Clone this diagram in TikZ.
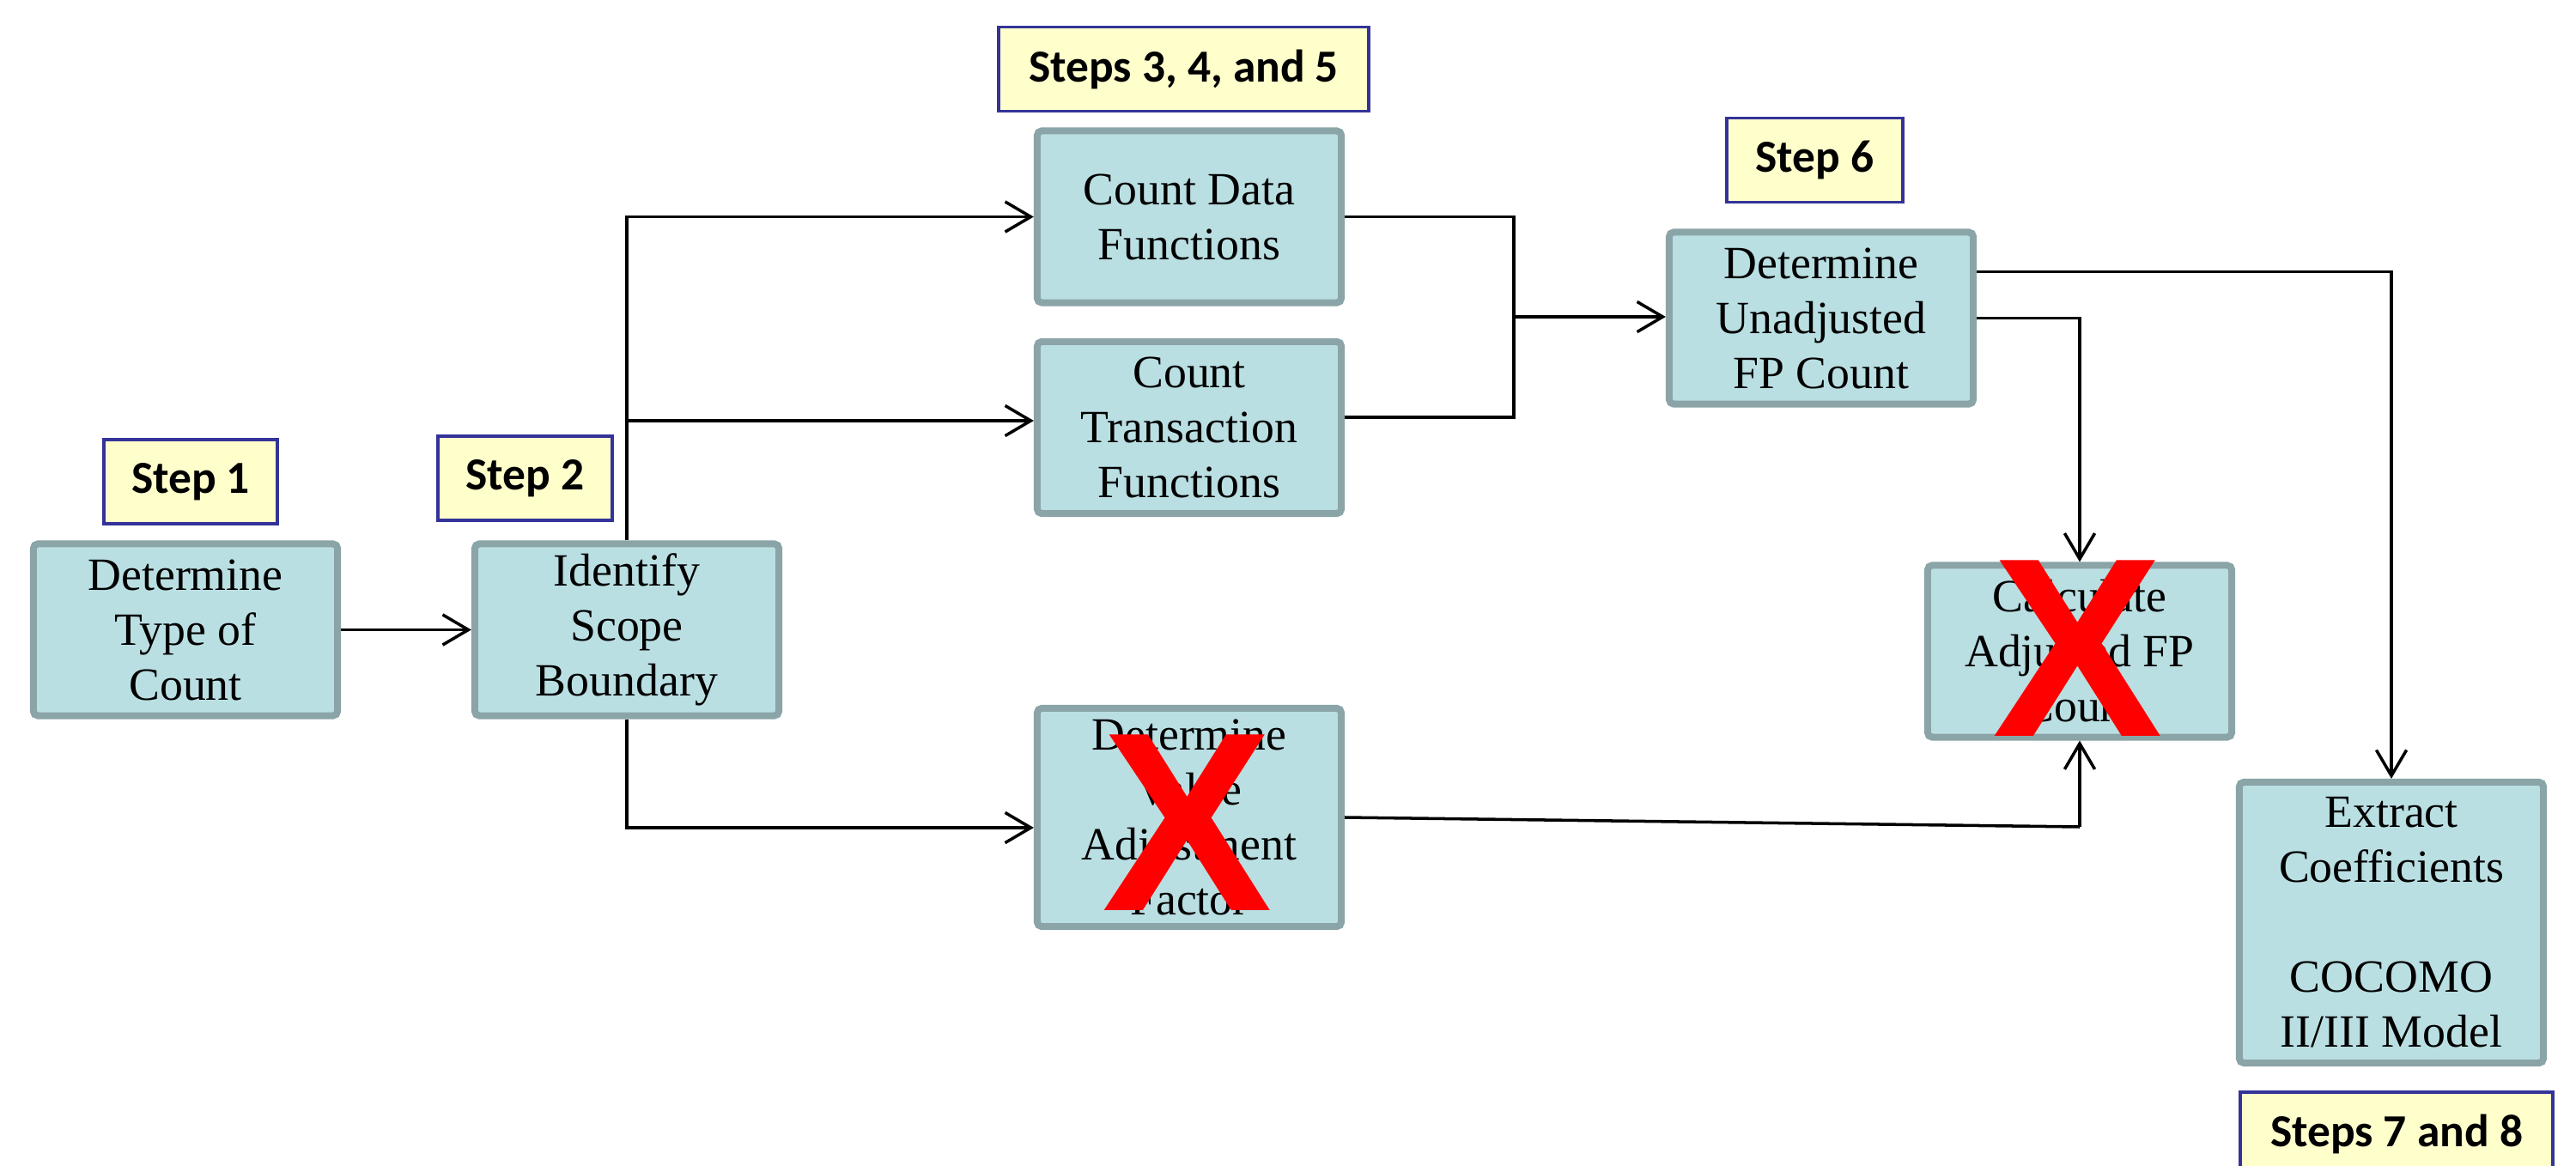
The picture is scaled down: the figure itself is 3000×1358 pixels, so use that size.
\documentclass[tikz,border=0pt]{standalone}
\usepackage{fontspec}
\setmainfont{Liberation Serif}
\newfontfamily\stepfont{Carlito}
\newfontfamily\crossfont{Liberation Sans}
\usetikzlibrary{arrows.meta,calc}
\definecolor{boxfill}{HTML}{BADFE3}
\definecolor{boxline}{HTML}{8AA4A7}
\definecolor{lblfill}{HTML}{FFFFCC}
\definecolor{lblline}{HTML}{333399}
\definecolor{xred}{HTML}{FF0000}
\begin{document}
\begin{tikzpicture}[x=0.01cm,y=-0.01cm,
  procbox/.style={draw=boxline, fill=boxfill, line width=0.08cm, rounded corners=1.5pt,
    minimum width=3.54cm, minimum height=2.0cm, inner sep=0pt, align=center,
    font=\fontsize{15.3}{18.2}\selectfont},
  steplabel/.style={draw=lblline, fill=lblfill, line width=0.035cm, minimum height=0.98cm,
    inner sep=0pt, font=\stepfont\bfseries\fontsize{15.2}{18}\selectfont},
  crossmark/.style={text=xred, inner sep=0pt, font=\crossfont\bfseries\fontsize{84.6}{90}\selectfont},
  conn/.style={line width=1pt},
  arr/.style={conn, -{Straight Barb[length=8.5pt,width=10pt]}}]
\useasboundingbox[fill=white] (0,0) rectangle (3000,1358);

% process boxes
\node[procbox] (type)  at (216,733.5)  {Determine\\Type of\\Count};
\node[procbox] (ident) at (730,733.5)  {Identify\\Scope\\Boundary};
\node[procbox] (data)  at (1385,252.5) {Count Data\\Functions};
\node[procbox] (trans) at (1385,498)   {Count\\Transaction\\Functions};
\node[procbox, minimum height=2.54cm] (vaf) at (1385,952) {Determine\\Value\\Adjustment\\Factor};
\node[procbox] (unadj) at (2121,370.5) {Determine\\Unadjusted\\FP Count};
\node[procbox] (calc)  at (2422,758.5) {Calculate\\Adjusted FP\\Count};
\node[procbox, minimum height=3.27cm] (extract) at (2785,1074.5) {Extract\\Coefficients\\[18.2pt]COCOMO\\II/III Model};

% step labels
\node[steplabel, minimum width=2.02cm] (s1)   at (222,561)    {Step 1};
\node[steplabel, minimum width=2.03cm] (s2)   at (611.5,557)  {Step 2};
\node[steplabel, minimum width=4.31cm] (s345) at (1378.5,80.5){Steps 3, 4, and 5};
\node[steplabel, minimum width=2.05cm] (s6)   at (2113.5,186.5){Step 6};
\node[steplabel, minimum width=3.64cm] (s78)  at (2791,1321)  {Steps 7 and 8};

% junction coordinates
\coordinate (j1)  at (ident.north |- 0,490);
\coordinate (vin) at ($(vaf.west)+(0,12)$);
\coordinate (mid) at (1763,369);
\coordinate (tout) at ($(trans.east)+(0,-12)$);
\coordinate (uout) at ($(unadj.east)+(0,-54)$);
\coordinate (vc)  at ($(calc.south |- vaf.east)+(0,11)$);

% connectors
\draw[arr] (type.east) -- (ident.west);
\draw[arr] (ident.north) |- (data.west);
\draw[arr] (j1) -- (j1 -| trans.west);
\draw[arr] (ident.south) |- (vin);
\draw[conn] (data.east) -| (mid);
\draw[conn] (tout) -| (mid);
\draw[arr] (mid) -- (mid -| unadj.west);
\draw[arr] (unadj.east) -| (calc.north);
\draw[arr] (uout) -| (extract.north);
\draw[conn] (vaf.east) -- (vc);
\draw[arr] (vc) -- (calc.south);

% red crosses
\node[crossmark] (x1) at ($(vaf.center)+(-2,6)$) {X};
\node[crossmark] (x2) at ($(calc.center)+(-2,-3)$) {X};
\end{tikzpicture}
\end{document}
